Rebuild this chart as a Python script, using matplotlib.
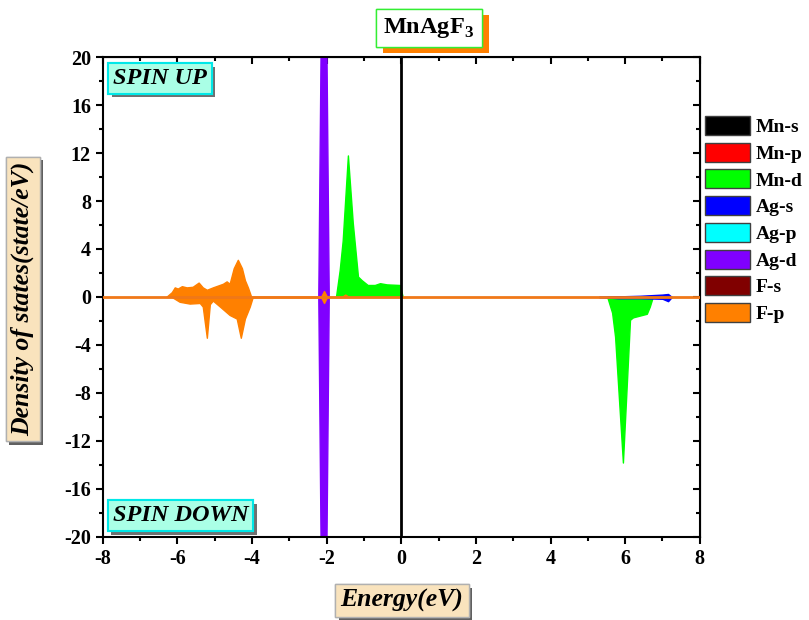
import numpy as np
import matplotlib
matplotlib.use("Agg")
import matplotlib.pyplot as plt
from matplotlib.patches import Patch
import matplotlib.patheffects as pe

plt.rcParams['font.family'] = ['Liberation Serif', 'DejaVu Serif']
plt.rcParams['mathtext.fontset'] = 'custom'
plt.rcParams['mathtext.rm'] = 'Liberation Serif:bold'
plt.rcParams['mathtext.bf'] = 'Liberation Serif:bold'
plt.rcParams['axes.unicode_minus'] = False

# ---------------- data ----------------
labels = ['Mn-s', 'Mn-p', 'Mn-d', 'Ag-s', 'Ag-p', 'Ag-d', 'F-s', 'F-p']
colors = ['#000000', '#ff0000', '#00ff00', '#0000ff', '#00ffff', '#8000ff', '#800000', '#ff8000']

# Mn-d (green)
mnd_up_x = [-1.75, -1.65, -1.57, -1.43, -1.30, -1.16, -1.06, -0.90, -0.71, -0.57, -0.39, -0.04, 0.04]
mnd_up_y = [0.0, 2.25, 4.7, 11.8, 6.2, 1.7, 1.4, 1.0, 1.0, 1.15, 1.05, 1.0, 0.0]
mnd_dn_x = [5.52, 5.65, 5.73, 5.94, 6.13, 6.21, 6.58, 6.66, 6.74]
mnd_dn_y = [0.0, -1.3, -3.3, -13.8, -1.9, -1.7, -1.4, -0.8, 0.0]

# Ag-s (blue)
ags_x = [5.3, 5.8, 6.4, 7.0, 7.15, 7.25]
ags_up = [0.0, 0.05, 0.1, 0.2, 0.25, 0.0]
ags_dn = [0.0, -0.1, -0.1, -0.15, -0.35, 0.0]

# Ag-d (violet)
agd_x = [-2.21, -2.15, -2.07, -1.99, -1.93]
agd_up = [0.0, 20.0, 60.0, 20.0, 0.0]
agd_dn = [0.0, -20.0, -60.0, -20.0, 0.0]

# F-p (orange)
fp_up_x = [-6.30, -6.15, -6.07, -5.99, -5.88, -5.75, -5.59, -5.43, -5.32, -5.21, -5.05,
           -4.78, -4.68, -4.60, -4.49, -4.38, -4.27, -4.19, -4.11, -4.02,
           -2.15, -2.07, -1.99, -1.6, -1.5, -1.4]
fp_up_y = [0.0, 0.4, 0.8, 0.7, 0.9, 0.8, 0.85, 1.2, 0.8, 0.6, 0.8,
           1.1, 1.3, 1.1, 2.4, 3.1, 2.4, 1.4, 0.8, 0.0,
           0.0, 0.5, 0.0, 0.0, 0.2, 0.0]
fp_dn_x = [-6.15, -5.94, -5.67, -5.40, -5.32, -5.21, -5.13, -5.05, -4.86, -4.60, -4.41,
           -4.30, -4.19, -4.06, -3.98, -2.15, -2.07, -1.99]
fp_dn_y = [0.0, -0.4, -0.55, -0.5, -0.8, -3.4, -0.6, -0.3, -0.8, -1.5, -1.8,
           -3.4, -1.8, -0.8, 0.0, 0.0, -0.5, 0.0]

energy_range = [-8, 8]

# ---------------- figure ----------------
fig = plt.figure(figsize=(8.09, 6.20), dpi=100)
ax = fig.add_axes([0.127, 0.134, 0.738, 0.774])

ax.fill_between(mnd_up_x, mnd_up_y, color=colors[2], lw=1)
ax.fill_between(mnd_dn_x, mnd_dn_y, color=colors[2], lw=1)
ax.fill_between(ags_x, ags_up, color=colors[3], lw=1)
ax.fill_between(ags_x, ags_dn, color=colors[3], lw=1)
ax.fill_between(agd_x, agd_up, color=colors[5], lw=1)
ax.fill_between(agd_x, agd_dn, color=colors[5], lw=1)
ax.fill_between(fp_up_x, fp_up_y, color=colors[7], lw=1)
ax.fill_between(fp_dn_x, fp_dn_y, color=colors[7], lw=1)
ax.plot(energy_range, [0, 0], color='#f07818', lw=2, zorder=3)
ax.axvline(0, color='black', lw=2, zorder=4)

ax.set_xlim(-8, 8)
ax.set_ylim(-20, 20)
ax.set_xticks(np.arange(-8, 9, 2))
ax.set_xticks(np.arange(-8, 9, 1), minor=True)
ax.set_yticks(np.arange(-20, 21, 4))
ax.set_yticks(np.arange(-20, 21, 2), minor=True)
ax.tick_params(which='major', direction='out', length=5, width=1.5, labelsize=14.5)
ax.tick_params(which='minor', direction='out', length=3, width=1.5)
for lab in ax.get_xticklabels() + ax.get_yticklabels():
    lab.set_fontweight('bold')
for sp in ax.spines.values():
    sp.set_linewidth(1.5)

top = ax.secondary_xaxis('top')
top.set_xticks(np.arange(-8, 9, 2))
top.set_xticks(np.arange(-8, 9, 1), minor=True)
top.tick_params(which='major', direction='in', length=5, width=1.5, labeltop=False)
top.tick_params(which='minor', direction='in', length=3, width=1.5)
right = ax.secondary_yaxis('right')
right.set_yticks(np.arange(-20, 21, 4))
right.set_yticks(np.arange(-20, 21, 2), minor=True)
right.tick_params(which='major', direction='in', length=5, width=1.5, labelright=False)
right.tick_params(which='minor', direction='in', length=3, width=1.5)


def shadow_box(t, off, shade):
    t.get_bbox_patch().set_path_effects([
        pe.withSimplePatchShadow(offset=off, shadow_rgbFace=shade, alpha=1.0),
        pe.Normal()])


# spin labels
for txt, xy in [('SPIN UP', (0.096, 0.955)), ('SPIN DOWN', (0.130, 0.044))]:
    t = ax.text(xy[0], xy[1], txt, transform=ax.transAxes, ha='center', va='center',
                fontsize=17.5, fontweight='bold', fontstyle='italic', zorder=6,
                bbox=dict(boxstyle='square,pad=0.2', fc='#aaffe6', ec='#00e8e8', lw=1.5))
    shadow_box(t, (2.5, -2.5), '#707070')

# title
t = fig.text(0.53, 0.955, r'MnAgF$_3$', ha='center', va='center', fontsize=17.5,
             fontweight='bold',
             bbox=dict(boxstyle='square,pad=0.3', fc='white', ec='#33ee33', lw=1))
shadow_box(t, (5, -4.5), '#ff8000')

# axis labels
t = fig.text(0.028, 0.518, 'Density of states(state/eV)', rotation=90, ha='center',
             va='center', fontsize=18.5, fontweight='bold', fontstyle='italic',
             bbox=dict(boxstyle='square,pad=0.2', fc='#f9e3bd', ec='#b0b0b0', lw=1))
shadow_box(t, (2.5, -2.5), '#606060')
t = fig.text(0.497, 0.031, 'Energy(eV)', ha='center', va='center', fontsize=18.5,
             fontweight='bold', fontstyle='italic',
             bbox=dict(boxstyle='square,pad=0.2', fc='#f9e3bd', ec='#b0b0b0', lw=1))
shadow_box(t, (2.5, -2.5), '#606060')

# legend
handles = [Patch(facecolor=c, edgecolor='#404040', lw=1) for c in colors]
leg = fig.legend(handles, labels, loc='upper left', bbox_to_anchor=(0.872, 0.813),
                 frameon=False, prop=dict(family='Liberation Serif', weight='bold', size=14),
                 handlelength=2.3, handleheight=1.13, handletextpad=0.3,
                 labelspacing=0.34, borderpad=0, borderaxespad=0)

fig.savefig('out.png', dpi=100)
